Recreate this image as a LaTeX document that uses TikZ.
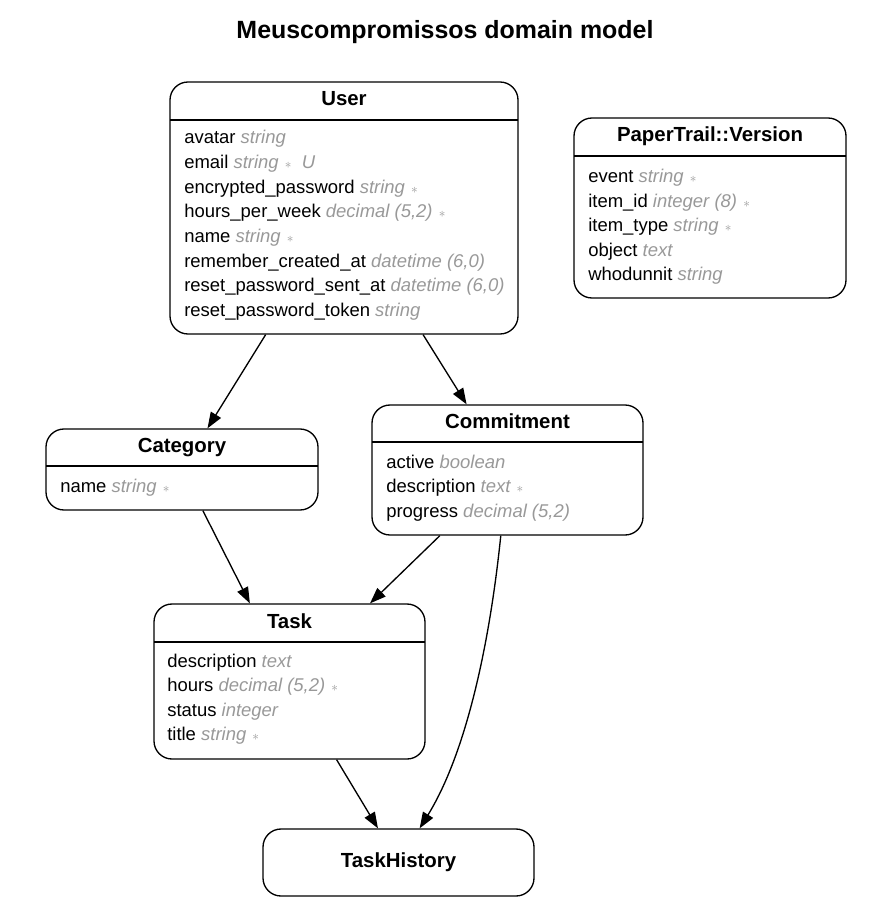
\documentclass[tikz,border=0pt]{standalone}
\usepackage{fontspec}
\setmainfont{Liberation Sans}
\usetikzlibrary{arrows.meta}
\definecolor{typegray}{HTML}{999999}
\tikzset{
  entbox/.style={draw=black, line width=1pt, rounded corners=13.5pt, inner sep=0pt, fill=white},
  hdr/.style={font=\fontsize{15.3}{18}\selectfont\bfseries, anchor=base, inner sep=0pt},
  row/.style={font=\fontsize{13.85}{16}\selectfont, anchor=base west, inner sep=0pt},
  ttl/.style={font=\fontsize{18.7}{22}\selectfont\bfseries, anchor=base, inner sep=0pt},
  rel/.style={draw=black, line width=1pt, -{Triangle[length=12pt,width=8.8pt]}},
  sepline/.style={draw=black, line width=1pt}
}
\newcommand{\ty}[1]{{\color{typegray}\itshape #1}}
\newcommand{\req}{{\color{typegray}\,\,$\scriptstyle\ast$}}
\begin{document}
\begin{tikzpicture}[x=0.75pt,y=-0.75pt]
\useasboundingbox (0,0) rectangle (892,920);
\fill[white] (0,0) rectangle (892,920);
% title
\node[ttl] (title) at (445,39) {Meuscompromissos domain model};

% User
\node[entbox, minimum width={348*0.75pt}, minimum height={252*0.75pt}] (user) at (344,208) {};
\draw[sepline] (170,120) -- (518,120);
\node[hdr] (userh) at (344,106) {User};
\node[row] (u1) at (184,143) {avatar \ty{string}};
\node[row] (u2) at (184,168) {email \ty{string}\req\ \ \ty{U}};
\node[row] (u3) at (184,193) {encrypted\_password \ty{string}\req};
\node[row] (u4) at (184,217) {hours\_per\_week \ty{decimal (5,2)}\req};
\node[row] (u5) at (184,242) {name \ty{string}\req};
\node[row] (u6) at (184,267) {remember\_created\_at \ty{datetime (6,0)}};
\node[row] (u7) at (184,291) {reset\_password\_sent\_at \ty{datetime (6,0)}};
\node[row] (u8) at (184,316) {reset\_password\_token \ty{string}};

% PaperTrail::Version
\node[entbox, minimum width={272*0.75pt}, minimum height={180*0.75pt}] (ptv) at (710,208) {};
\draw[sepline] (574,156) -- (846,156);
\node[hdr] (ptvh) at (710,142) {PaperTrail::Version};
\node[row] (p1) at (588,182) {event \ty{string}\req};
\node[row] (p2) at (588,207) {item\_id \ty{integer (8)}\req};
\node[row] (p3) at (588,231) {item\_type \ty{string}\req};
\node[row] (p4) at (588,256) {object \ty{text}};
\node[row] (p5) at (588,280) {whodunnit \ty{string}};

% Category
\node[entbox, minimum width={272*0.75pt}, minimum height={81*0.75pt}] (category) at (182,469.5) {};
\draw[sepline] (46,466) -- (318,466);
\node[hdr] (cath) at (182,452) {Category};
\node[row] (c1) at (60,492) {name \ty{string}\req};

% Commitment
\node[entbox, minimum width={271*0.75pt}, minimum height={130*0.75pt}] (commitment) at (507.5,470) {};
\draw[sepline] (372,442) -- (643,442);
\node[hdr] (comh) at (507.5,428) {Commitment};
\node[row] (m1) at (386,468) {active \ty{boolean}};
\node[row] (m2) at (386,492) {description \ty{text}\req};
\node[row] (m3) at (386,517) {progress \ty{decimal (5,2)}};

% Task
\node[entbox, minimum width={271*0.75pt}, minimum height={155*0.75pt}] (task) at (289.5,681.5) {};
\draw[sepline] (154,642) -- (425,642);
\node[hdr] (taskh) at (289.5,628) {Task};
\node[row] (t1) at (167,667) {description \ty{text}};
\node[row] (t2) at (167,691) {hours \ty{decimal (5,2)}\req};
\node[row] (t3) at (167,716) {status \ty{integer}};
\node[row] (t4) at (167,740) {title \ty{string}\req};

% TaskHistory
\node[entbox, minimum width={271*0.75pt}, minimum height={67*0.75pt}] (taskhistory) at (398.5,862.5) {};
\node[hdr] (thh) at (398.5,867) {TaskHistory};

% relations
\draw[rel] (user) -- (category);
\draw[rel] (user) -- (commitment);
\draw[rel] (category) -- (task);
\draw[rel] (commitment) -- (task);
\draw[rel] (task) -- (taskhistory);
\draw[rel] (commitment) .. controls (488,660) and (462,760) .. (taskhistory);
\end{tikzpicture}
\end{document}
